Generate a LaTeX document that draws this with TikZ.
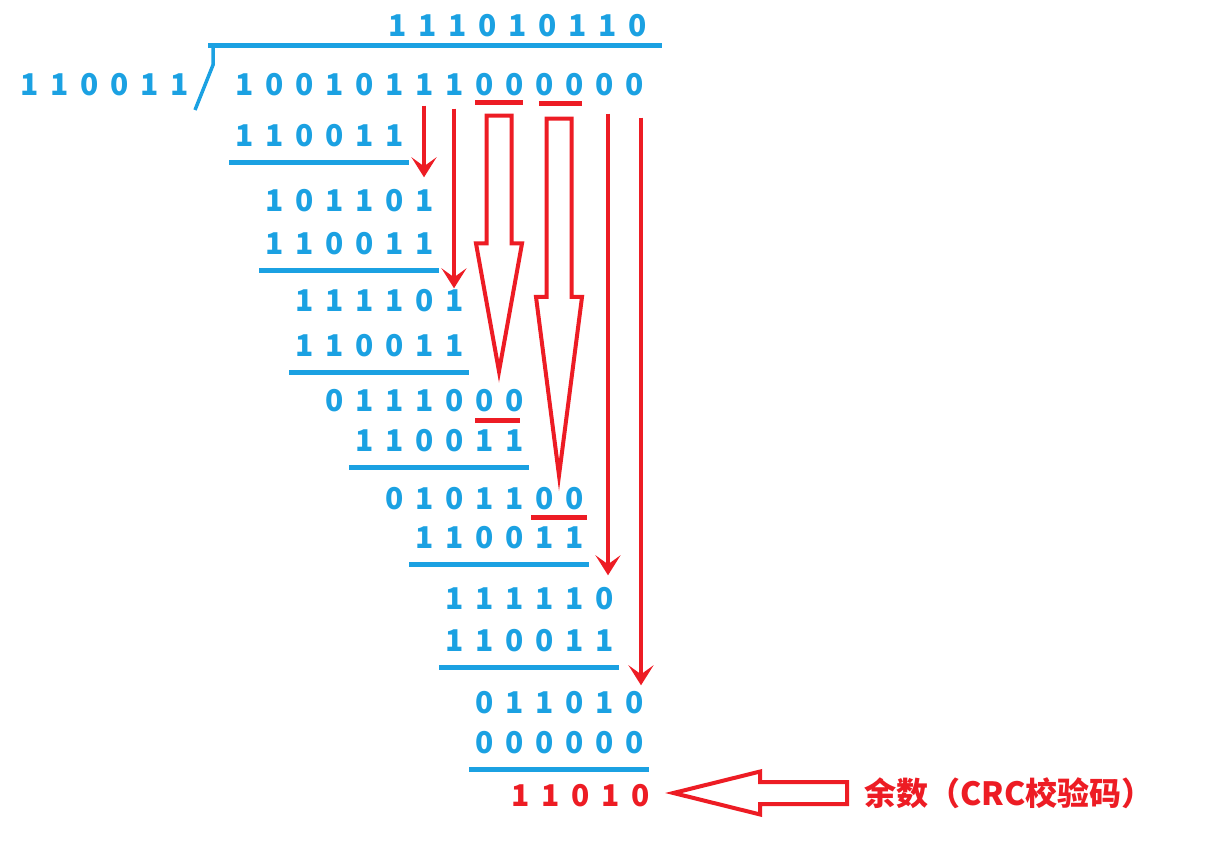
\documentclass[tikz,border=0pt]{standalone}
\usepackage{fontspec}
\setmainfont{Noto Sans CJK SC}
\usetikzlibrary{arrows.meta,calc}
\definecolor{crcblue}{HTML}{1BA1E2}
\definecolor{crcred}{HTML}{ED1C24}
\tikzset{>={Stealth[length=20pt,width=25pt,inset=9pt]}}
\newcommand\bitloop[1]{\ifx#1\relax\else\makebox[30pt]{#1}\expandafter\bitloop\fi}
\newcommand\bits[1]{\bitloop#1\relax}
\tikzset{
  bitrow/.style={anchor=west, inner sep=0pt, text height=23pt, text depth=0pt,
    text=crcblue, font=\fontsize{30}{30}\selectfont\bfseries},
  rule/.style={draw=crcblue, line width=5pt},
  redmark/.style={draw=crcred, line width=5pt},
  thinarrow/.style={draw=crcred, line width=3.5pt, ->},
  hollow/.style={draw=crcred, line width=4pt, line join=miter}
}
% hollow arrow, head starts half way
\newcommand\hollowdown[2]{%
  \draw[hollow] let \p1=(#1), \p2=(#2), \p3=($(#1)!0.5!(#2)$) in
  (\x1-12.5pt,\y1) -- (\x1+12.5pt,\y1) -- (\x1+12.5pt,\y3) -- (\x1+23pt,\y3)
  -- (\x2,\y2) -- (\x1-23pt,\y3) -- (\x1-12.5pt,\y3) -- cycle;}
\newcommand\hollowleft[2]{%
  \draw[hollow] let \p1=(#1), \p2=(#2), \p3=($(#1)!0.5!(#2)$) in
  (\x1,\y1+11pt) -- (\x3,\y1+11pt) -- (\x3,\y1+21.5pt) -- (\x2,\y2)
  -- (\x3,\y1-21.5pt) -- (\x3,\y1-11pt) -- (\x1,\y1-11pt) -- cycle;}

\begin{document}
\begin{tikzpicture}[x=1pt, y=-1pt]
\newcommand\X{30}
\useasboundingbox (0,0) rectangle (1214,866);

\foreach \k in {0,...,13} \coordinate (c\k) at (244+\k*\X, 0);

\node[bitrow] (quo) at (382+0*\X, 25) {\bits{111010110}};
\node[bitrow] (dvs) at (14, 84) {\bits{110011}};
\node[bitrow] (div) at (229+0*\X, 84) {\bits{10010111000000}};

\node[bitrow] (s1) at (229+0*\X, 135) {\bits{110011}};
\node[bitrow] (r1) at (229+1*\X, 200) {\bits{101101}};
\node[bitrow] (s2) at (229+1*\X, 243) {\bits{110011}};
\node[bitrow] (r2) at (229+2*\X, 300) {\bits{111101}};
\node[bitrow] (s3) at (229+2*\X, 345) {\bits{110011}};
\node[bitrow] (r3) at (229+3*\X, 400) {\bits{0111000}};
\node[bitrow] (s4) at (229+4*\X, 440) {\bits{110011}};
\node[bitrow] (r4) at (229+5*\X, 498) {\bits{0101100}};
\node[bitrow] (s5) at (229+6*\X, 537) {\bits{110011}};
\node[bitrow] (r5) at (229+7*\X, 598) {\bits{111110}};
\node[bitrow] (s6) at (229+7*\X, 640) {\bits{110011}};
\node[bitrow] (r6) at (229+8*\X, 702) {\bits{011010}};
\node[bitrow] (s7) at (229+8*\X, 742) {\bits{000000}};
\node[bitrow, text=crcred] (rem) at (235+9*\X, 795) {\bits{11010}};

\node[anchor=west, inner sep=0pt, text=crcred,
  font=\fontsize{32}{32}\selectfont\bfseries] (note) at (864, 793) {余数（CRC校验码）};

% division sign
\draw[rule] (208,46) -- (662,46);
\draw[draw=crcblue, line width=3.5pt] (213,46) -- (213,65) -- (195,110);

\foreach \s in {s1,s2,s3,s4,s5,s6,s7}
  \draw[rule] ($(\s.south west)+(0,16)$) -- ($(\s.south east)+(0,16)$);

\draw[redmark] ($(c8 |- div.south)+(-9,7)$) -- ($(c9 |- div.south)+(9,7)$);
\draw[redmark] ($(c10 |- div.south)+(-5,8)$) -- ($(c11 |- div.south)+(8,8)$);
\draw[redmark] ($(c8 |- r3.south)+(-9,9)$) -- ($(c9 |- r3.south)+(6,9)$);
\draw[redmark] ($(c10 |- r4.south)+(-13,8)$) -- ($(c11 |- r4.south)+(13,8)$);

\draw[thinarrow] ($(c6 |- div.south)+(0,10)$) -- ($(c6 |- r1.north)+(0,-11)$);
\draw[thinarrow] ($(c7 |- div.south)+(0,13)$) -- (c7 |- r2.north);
\draw[thinarrow] ($(c12 |- div.south)+(4,18)$) -- ($(c12 |- r5.north)+(4,-11)$);
\draw[thinarrow] ($(c13 |- div.south)+(7,22)$) -- ($(c13 |- r6.north)+(7,-5)$);

\coordinate (h1top) at ($(c8 |- div.south)!0.5!(c9 |- div.south)+(0,20)$);
\coordinate (h1tip) at ($(c8 |- r3.north)!0.5!(c9 |- r3.north)+(0,-17)$);
\coordinate (h2top) at ($(c10 |- div.south)!0.5!(c11 |- div.south)+(0,23)$);
\coordinate (h2tip) at ($(c10 |- r4.north)!0.5!(c11 |- r4.north)+(0,-11)$);
\hollowdown{h1top}{h1tip}
\hollowdown{h2top}{h2tip}

\coordinate (lend) at ($(note.west)+(-17,0)$);
\coordinate (ltip) at ($(rem.east)+(18,-2)$);
\hollowleft{lend}{ltip}
\end{tikzpicture}
\end{document}
